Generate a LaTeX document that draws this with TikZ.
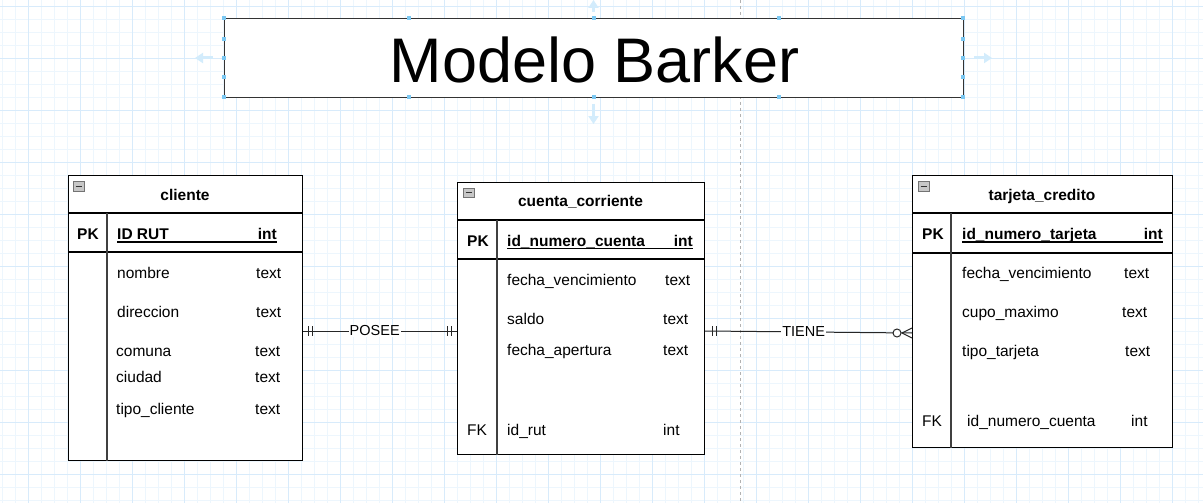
\documentclass[tikz,border=0pt]{standalone}
\usepackage{fontspec}
\setmainfont{Liberation Sans}
\usetikzlibrary{arrows.meta}
\definecolor{gridminor}{HTML}{EDF6FD}
\definecolor{gridmajor}{HTML}{D8EBFB}
\definecolor{handle}{HTML}{7CC8F2}
\definecolor{uiarrow}{HTML}{D3ECFC}
\definecolor{titleborder}{HTML}{333333}
\begin{document}
\begin{tikzpicture}[x=1pt,y=-1pt,
  tbl/.style={draw=black, line width=1.2pt, fill=white, rectangle, inner sep=0pt, anchor=north west},
  sepline/.style={draw=black, line width=1.2pt},
  divline/.style={draw=black!75, line width=1.2pt},
  txt/.style={inner sep=0pt, anchor=base west, font=\fontsize{15.5}{18}\selectfont},
  txtr/.style={txt, anchor=base east},
  txtb/.style={txt, font=\fontsize{15.5}{18}\selectfont\bfseries},
  txtbr/.style={txtb, anchor=base east},
  ttl/.style={inner sep=0pt, anchor=base, font=\fontsize{15.5}{18}\selectfont\bfseries},
  uline/.style={draw=black, line width=1.5pt},
  rel/.style={draw=black!85, line width=1pt},
  lbl/.style={fill=white, inner sep=1pt, font=\fontsize{14.5}{17}\selectfont},
  minus/.style={draw=black!55, fill=black!22, line width=0.6pt},
  hdl/.style={fill=handle, draw=none},
  uiarr/.style={draw=uiarrow, line width=3pt, -{Triangle[width=10pt,length=8pt]}}
]
\useasboundingbox (0,0) rectangle (1203,503);
\fill[white] (0,0) rectangle (1203,503);
% grid
\foreach \x in {2,15,...,1202} \draw[gridminor, line width=0.8pt] (\x,0) -- (\x,503);
\foreach \y in {6,19,...,502} \draw[gridminor, line width=0.8pt] (0,\y) -- (1203,\y);
\foreach \x in {28,80,...,1202} \draw[gridmajor, line width=0.9pt] (\x,0) -- (\x,503);
\foreach \y in {6,58,...,502} \draw[gridmajor, line width=0.9pt] (0,\y) -- (1203,\y);
% guide
\draw[black!30, line width=1pt, dash pattern=on 3pt off 3pt] (740,0) -- (740,503);
% ui arrows around the title
\draw[uiarr] (213,58) -- (195,58);
\draw[uiarr] (974,58) -- (992,58);
\draw[uiarr] (593.5,12) -- (593.5,0);
\draw[uiarr] (593.5,104) -- (593.5,124);

% title
\node[draw=titleborder, line width=1.3pt, fill=white, minimum width=739pt, minimum height=79pt, inner sep=0pt, anchor=north west] (title) at (224,18) {};
\node[inner sep=0pt, anchor=base, font=\fontsize{63}{70}\selectfont] (titletext) at (594.5,82) {Modelo Barker};
\foreach \x in {224,408.6,593.5,779.4,963} {
  \fill[hdl] (\x-2,16) rectangle (\x+2,20);
  \fill[hdl] (\x-2,95) rectangle (\x+2,99);
}
\foreach \y in {39,58,77} {
  \fill[hdl] (222,\y-2) rectangle (226,\y+2);
  \fill[hdl] (961,\y-2) rectangle (965,\y+2);
}

% ---------- cliente
\node[tbl, minimum width=234pt, minimum height=285pt] (cliente) at (68,175) {};
\draw[sepline] (cliente.west |- 0,213) -- (cliente.east |- 0,213);
\draw[sepline] (cliente.west |- 0,252) -- (cliente.east |- 0,252);
\draw[divline] (107,213) -- (cliente.south -| 107,0);
\draw[minus] (73,181.5) rectangle (84,191);
\draw[black!80, line width=1pt] (75.5,186) -- (81.5,186);
\node[ttl] (clT) at (185,200.7) {cliente};
\node[txtb] (clPK) at (77,239.3) {PK};
\node[txtb] (clK) at (117,239.3) {ID RUT};
\node[txtbr] (clKt) at (277,239.3) {int};
\draw[uline] (117,241.8) -- (277,241.8);
\node[txt] (cl1) at (117,278.3) {nombre};      \node[txt] (cl1t) at (256,278.3) {text};
\node[txt] (cl2) at (117,317.3) {direccion};   \node[txt] (cl2t) at (256,317.3) {text};
\node[txt] (cl3) at (116,356.7) {comuna};      \node[txt] (cl3t) at (255,356.7) {text};
\node[txt] (cl4) at (116,382.3) {ciudad};      \node[txt] (cl4t) at (255,382.3) {text};
\node[txt] (cl5) at (116,414) {tipo\_cliente}; \node[txt] (cl5t) at (255,414) {text};

% ---------- cuenta_corriente
\node[tbl, minimum width=247pt, minimum height=272pt] (cuenta) at (457,182) {};
\draw[sepline] (cuenta.west |- 0,220) -- (cuenta.east |- 0,220);
\draw[sepline] (cuenta.west |- 0,259) -- (cuenta.east |- 0,259);
\draw[divline] (497,220) -- (cuenta.south -| 497,0);
\draw[minus] (463,188) rectangle (474,197.5);
\draw[black!80, line width=1pt] (465.5,192.7) -- (471.5,192.7);
\node[ttl] (cuT) at (580.5,206.7) {cuenta\_corriente};
\node[txtb] (cuPK) at (467,246) {PK};
\node[txtb] (cuK) at (507,246) {id\_numero\_cuenta};
\node[txtbr] (cuKt) at (693,246) {int};
\draw[uline] (507,248.7) -- (693,248.7);
\node[txt] (cu1) at (507,285) {fecha\_vencimiento}; \node[txt] (cu1t) at (665,285) {text};
\node[txt] (cu2) at (507,324) {saldo};              \node[txt] (cu2t) at (663,324) {text};
\node[txt] (cu3) at (507,355.3) {fecha\_apertura};  \node[txt] (cu3t) at (663,355.3) {text};
\node[txt] (cuFK) at (467,435.7) {FK};
\node[txt] (cu4) at (507,435.7) {id\_rut};          \node[txt] (cu4t) at (663,435.7) {int};

% ---------- tarjeta_credito
\node[tbl, minimum width=260pt, minimum height=272pt] (tarjeta) at (912,175) {};
\draw[sepline] (tarjeta.west |- 0,213) -- (tarjeta.east |- 0,213);
\draw[sepline] (tarjeta.west |- 0,253) -- (tarjeta.east |- 0,253);
\draw[divline] (951,213) -- (tarjeta.south -| 951,0);
\draw[minus] (918,181.5) rectangle (929,191);
\draw[black!80, line width=1pt] (920.5,186) -- (926.5,186);
\node[ttl] (taT) at (1042,200.7) {tarjeta\_credito};
\node[txtb] (taPK) at (922,239) {PK};
\node[txtb] (taK) at (962,239) {id\_numero\_tarjeta};
\node[txtbr] (taKt) at (1163,239) {int};
\draw[uline] (962,241.8) -- (1163,241.8);
\node[txt] (ta1) at (962,278.3) {fecha\_vencimiento}; \node[txt] (ta1t) at (1124,278.3) {text};
\node[txt] (ta2) at (962,317.3) {cupo\_maximo};       \node[txt] (ta2t) at (1122,317.3) {text};
\node[txt] (ta3) at (962,356.7) {tipo\_tarjeta};      \node[txt] (ta3t) at (1125,356.7) {text};
\node[txt] (taFK) at (922,426) {FK};
\node[txt] (ta4) at (967,426) {id\_numero\_cuenta};   \node[txt] (ta4t) at (1131,426) {int};

% ---------- POSEE
\coordinate (a1) at (cliente.east |- 0,331);
\coordinate (a2) at (cuenta.west |- 0,331);
\draw[rel] (a1) -- node[lbl, pos=0.465] (posee) {POSEE} (a2);
\draw[rel] ([xshift=5pt]a1) ++(0,-5) -- ++(0,10);
\draw[rel] ([xshift=9pt]a1) ++(0,-5) -- ++(0,10);
\draw[rel] ([xshift=-6pt]a2) ++(0,-5) -- ++(0,10);
\draw[rel] ([xshift=-10pt]a2) ++(0,-5) -- ++(0,10);

% ---------- TIENE
\coordinate (b1) at (cuenta.east |- 0,331);
\coordinate (b2) at (tarjeta.west |- 0,333);
\draw[rel] (b1) -- node[lbl, pos=0.476] (tiene) {TIENE} (b2);
\draw[rel] ([xshift=7pt]b1) ++(0,-5) -- ++(0,10);
\draw[rel] ([xshift=11pt]b1) ++(0,-5) -- ++(0,10);
\draw[rel, fill=white] ([xshift=-15pt]b2) circle (4pt);
\draw[rel] ([xshift=-10pt]b2) -- ([yshift=-5pt]b2);
\draw[rel] ([xshift=-10pt]b2) -- ([yshift=5pt]b2);
\end{tikzpicture}
\end{document}
